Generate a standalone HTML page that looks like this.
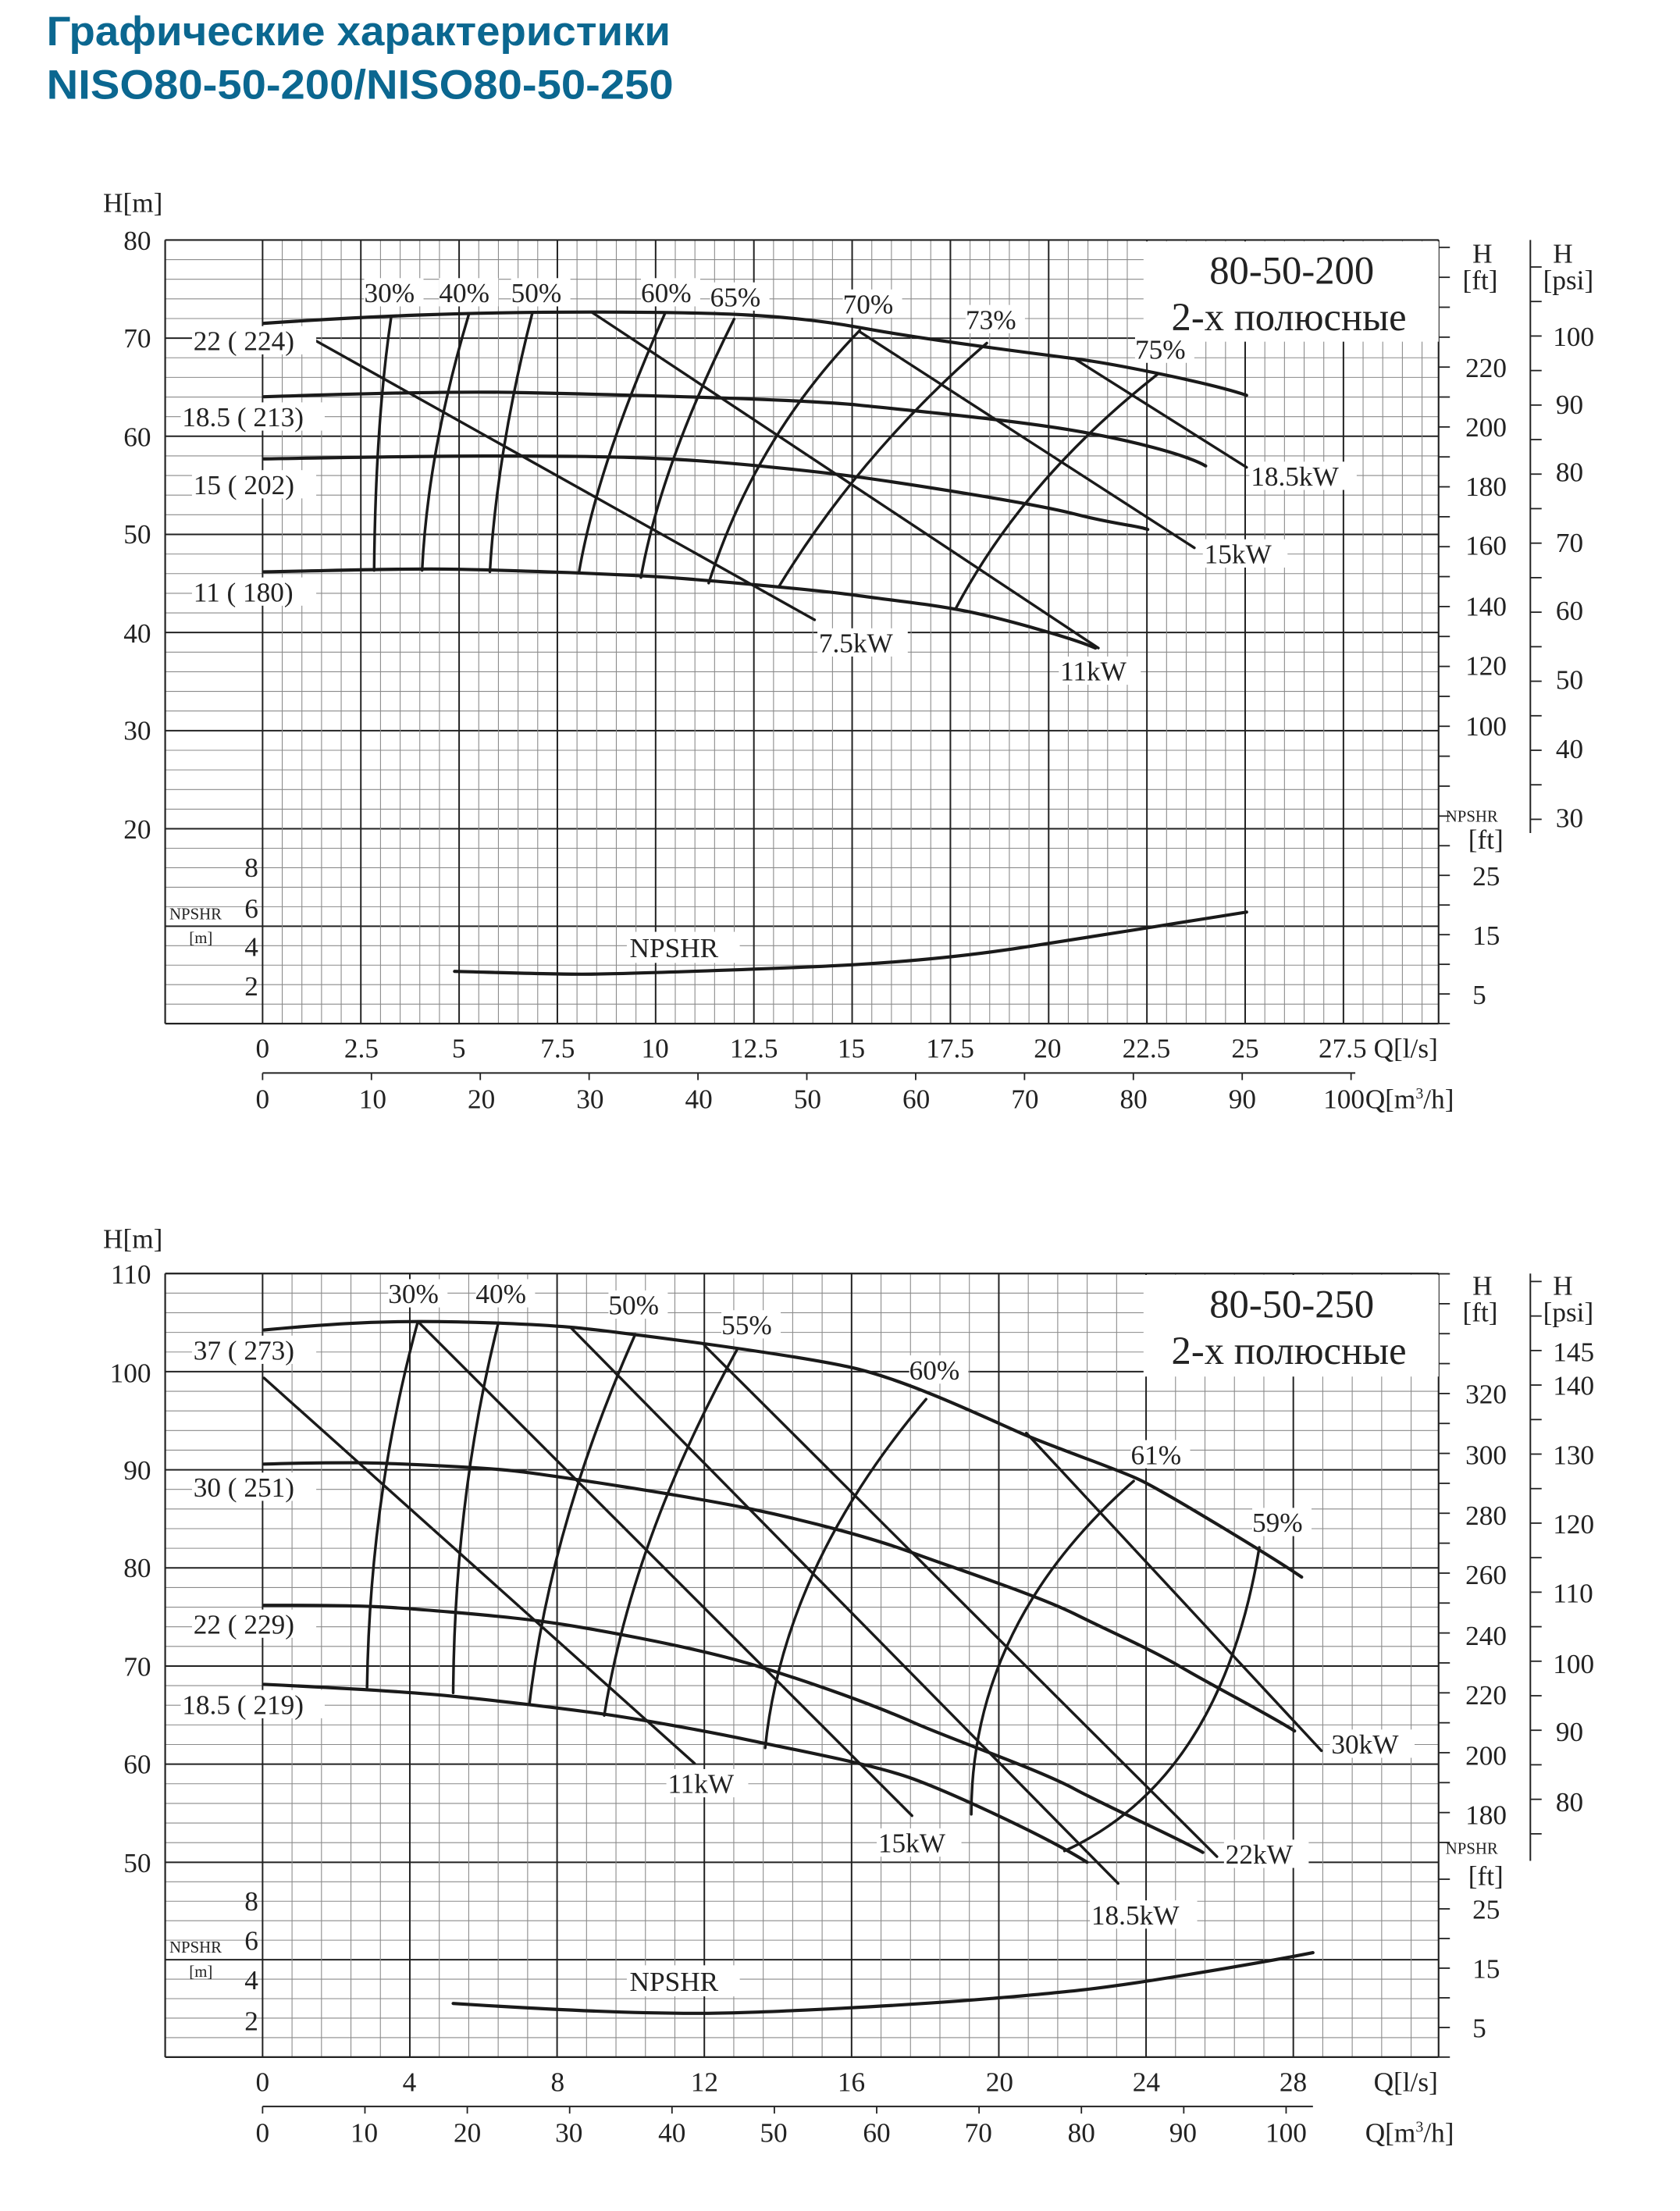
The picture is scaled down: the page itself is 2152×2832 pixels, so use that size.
<!DOCTYPE html>
<html><head><meta charset="utf-8"><style>
html,body{margin:0;padding:0;background:#fff;}
svg{display:block;}
text{font-family:"Liberation Serif","DejaVu Serif",serif;fill:#222;}
.t{font-size:19.5px;}
.s{font-size:11.5px;}
.c{fill:none;stroke:#1a1a1a;stroke-width:2.3;stroke-linecap:round;stroke-linejoin:round;}
.l{fill:none;stroke:#1a1a1a;stroke-width:1.9;stroke-linecap:round;}
.bg{fill:#fff;}
</style></head><body>
<svg id="sv" width="2152" height="2832" viewBox="0 0 1190 1566" preserveAspectRatio="none" xmlns="http://www.w3.org/2000/svg">
<rect width="1190" height="1566" fill="#fff"/>
<g id="grid"></g>
<text x="33" y="32" textLength="442" lengthAdjust="spacingAndGlyphs" style="font-family:'Liberation Sans','DejaVu Sans',sans-serif;font-weight:bold;font-size:29px;fill:#0b6790">Графические характеристики</text>
<text x="33" y="70" textLength="444" lengthAdjust="spacingAndGlyphs" style="font-family:'Liberation Sans','DejaVu Sans',sans-serif;font-weight:bold;font-size:29px;fill:#0b6790">NISO80-50-200/NISO80-50-250</text>

<!-- ============ CHART 1 ============ -->
<rect class="bg" x="810" y="171" width="209" height="71"/>
<text x="915" y="201" text-anchor="middle" style="font-size:28px">80-50-200</text>
<text x="913" y="234" text-anchor="middle" style="font-size:28px">2-х полюсные</text>
<text x="73" y="150" class="t">H[m]</text>
<g class="t" text-anchor="end">
<text x="107" y="177">80</text><text x="107" y="246">70</text><text x="107" y="316">60</text><text x="107" y="385">50</text><text x="107" y="455">40</text><text x="107" y="524">30</text><text x="107" y="594">20</text>
<text x="183" y="621">8</text><text x="183" y="650">6</text><text x="183" y="677">4</text><text x="183" y="705">2</text>
</g>
<text x="120" y="651" class="s">NPSHR</text><text x="134" y="668" class="s">[m]</text>
<g class="t">
<text x="1043" y="186">H</text><text x="1036" y="205">[ft]</text>
<text x="1100" y="186">H</text><text x="1093" y="205">[psi]</text>
<text x="1038" y="267">220</text><text x="1038" y="309">200</text><text x="1038" y="351">180</text><text x="1038" y="393">160</text><text x="1038" y="436">140</text><text x="1038" y="478">120</text><text x="1038" y="521">100</text>
<text x="1100" y="245">100</text><text x="1102" y="293">90</text><text x="1102" y="341">80</text><text x="1102" y="391">70</text><text x="1102" y="439">60</text><text x="1102" y="488">50</text><text x="1102" y="537">40</text><text x="1102" y="586">30</text>
<text x="1040" y="601">[ft]</text><text x="1043" y="627">25</text><text x="1043" y="669">15</text><text x="1043" y="711">5</text>
</g>
<text x="1024" y="582" class="s">NPSHR</text>
<g class="t" text-anchor="middle">
<text x="186" y="749">0</text><text x="256" y="749">2.5</text><text x="325" y="749">5</text><text x="395" y="749">7.5</text><text x="464" y="749">10</text><text x="534" y="749">12.5</text><text x="603" y="749">15</text><text x="673" y="749">17.5</text><text x="742" y="749">20</text><text x="812" y="749">22.5</text><text x="882" y="749">25</text><text x="951" y="749">27.5</text>
<text x="186" y="785">0</text><text x="264" y="785">10</text><text x="341" y="785">20</text><text x="418" y="785">30</text><text x="495" y="785">40</text><text x="572" y="785">50</text><text x="649" y="785">60</text><text x="726" y="785">70</text><text x="803" y="785">80</text><text x="880" y="785">90</text><text x="952" y="785">100</text>
</g>
<text x="973" y="749" class="t">Q[l/s]</text>
<text x="967" y="785" class="t">Q[m<tspan dy="-7" style="font-size:11px">3</tspan><tspan dy="7">/h]</tspan></text>

<path class="c" d="M187,229 C260,224 330,221 420,221 S560,223 609,232 S730,250 761,254 S860,272 883,280"/>
<path class="c" d="M187,281 C250,279 320,277 366,278 S560,282 609,287 S720,298 761,305 S840,322 854,330"/>
<path class="c" d="M187,325 C250,324 300,323 343,323 S430,323 472,325 S580,334 609,338 S730,356 761,364 S805,372 813,375"/>
<path class="c" d="M187,405 C240,404 270,403 305,403 S420,406 457,408 S580,418 609,422 S660,428 685,433 S760,452 776,459"/>
<path class="c" d="M322,688 C360,689 390,690 412,690 S560,686 609,683 S700,675 731,670 S860,650 883,646"/>
<g class="l">
<line x1="207" y1="232" x2="577" y2="439"/>
<line x1="419" y1="221" x2="778" y2="459"/>
<line x1="609" y1="235" x2="846" y2="388"/>
<line x1="761" y1="254" x2="883" y2="331"/>
<path d="M277,225 Q266,300 265,404"/>
<path d="M332,223 Q303,320 299,404"/>
<path d="M377,222 Q352,320 347,405"/>
<path d="M471,222 Q423,330 410,406"/>
<path d="M520,226 Q468,330 454,409"/>
<path d="M609,234 Q535,310 502,413"/>
<path d="M699,243 Q610,320 552,415"/>
<path d="M820,265 Q725,340 677,431"/>
</g>
<g class="t">
<rect class="bg" x="258" y="197" width="42" height="20"/><text x="258" y="214">30%</text>
<rect class="bg" x="311" y="197" width="42" height="20"/><text x="311" y="214">40%</text>
<rect class="bg" x="362" y="197" width="42" height="20"/><text x="362" y="214">50%</text>
<rect class="bg" x="454" y="197" width="42" height="20"/><text x="454" y="214">60%</text>
<rect class="bg" x="503" y="200" width="42" height="20"/><text x="503" y="217">65%</text>
<rect class="bg" x="597" y="205" width="42" height="20"/><text x="597" y="222">70%</text>
<rect class="bg" x="684" y="216" width="42" height="20"/><text x="684" y="233">73%</text>
<rect class="bg" x="804" y="237" width="42" height="20"/><text x="804" y="254">75%</text>
<rect class="bg" x="579" y="445" width="64" height="20"/><text x="580" y="462">7.5kW</text>
<rect class="bg" x="750" y="465" width="58" height="20"/><text x="751" y="482">11kW</text>
<rect class="bg" x="852" y="382" width="60" height="20"/><text x="853" y="399">15kW</text>
<rect class="bg" x="885" y="327" width="76" height="20"/><text x="886" y="344">18.5kW</text>
<rect class="bg" x="444" y="660" width="80" height="22"/><text x="446" y="678">NPSHR</text>
<rect class="bg" x="136" y="231" width="88" height="20"/><text x="137" y="248">22 (  224)</text>
<rect class="bg" x="128" y="285" width="102" height="20"/><text x="129" y="302">18.5 (  213)</text>
<rect class="bg" x="136" y="333" width="88" height="20"/><text x="137" y="350">15 (  202)</text>
<rect class="bg" x="136" y="409" width="88" height="20"/><text x="137" y="426">11 (  180)</text>
</g>

<!-- ============ CHART 2 ============ -->
<rect class="bg" x="810" y="903" width="209" height="72"/>
<text x="915" y="933" text-anchor="middle" style="font-size:28px">80-50-250</text>
<text x="913" y="966" text-anchor="middle" style="font-size:28px">2-х полюсные</text>
<text x="73" y="884" class="t">H[m]</text>
<g class="t" text-anchor="end">
<text x="107" y="909">110</text><text x="107" y="979">100</text><text x="107" y="1048">90</text><text x="107" y="1117">80</text><text x="107" y="1187">70</text><text x="107" y="1256">60</text><text x="107" y="1326">50</text>
<text x="183" y="1353">8</text><text x="183" y="1381">6</text><text x="183" y="1409">4</text><text x="183" y="1438">2</text>
</g>
<text x="120" y="1383" class="s">NPSHR</text><text x="134" y="1400" class="s">[m]</text>
<g class="t">
<text x="1043" y="917">H</text><text x="1036" y="936">[ft]</text>
<text x="1100" y="917">H</text><text x="1093" y="936">[psi]</text>
<text x="1038" y="994">320</text><text x="1038" y="1037">300</text><text x="1038" y="1080">280</text><text x="1038" y="1122">260</text><text x="1038" y="1165">240</text><text x="1038" y="1207">220</text><text x="1038" y="1250">200</text><text x="1038" y="1292">180</text>
<text x="1100" y="964">145</text><text x="1100" y="988">140</text><text x="1100" y="1037">130</text><text x="1100" y="1086">120</text><text x="1100" y="1135">110</text><text x="1100" y="1185">100</text><text x="1102" y="1233">90</text><text x="1102" y="1283">80</text>
<text x="1040" y="1335">[ft]</text><text x="1043" y="1359">25</text><text x="1043" y="1401">15</text><text x="1043" y="1443">5</text>
</g>
<text x="1024" y="1313" class="s">NPSHR</text>
<g class="t" text-anchor="middle">
<text x="186" y="1481">0</text><text x="290" y="1481">4</text><text x="395" y="1481">8</text><text x="499" y="1481">12</text><text x="603" y="1481">16</text><text x="708" y="1481">20</text><text x="812" y="1481">24</text><text x="916" y="1481">28</text>
<text x="186" y="1517">0</text><text x="258" y="1517">10</text><text x="331" y="1517">20</text><text x="403" y="1517">30</text><text x="476" y="1517">40</text><text x="548" y="1517">50</text><text x="621" y="1517">60</text><text x="693" y="1517">70</text><text x="766" y="1517">80</text><text x="838" y="1517">90</text><text x="911" y="1517">100</text>
</g>
<text x="973" y="1481" class="t">Q[l/s]</text>
<text x="967" y="1517" class="t">Q[m<tspan dy="-7" style="font-size:11px">3</tspan><tspan dy="7">/h]</tspan></text>

<path class="c" d="M187,942 C230,938 260,936 298,936 S380,938 404,940 S570,960 609,970 S700,1005 723,1015 S790,1040 807,1048 S900,1102 922,1117"/>
<path class="c" d="M187,1037 C215,1036 235,1036 252,1036 S340,1039 366,1042 S490,1060 533,1069 S620,1090 647,1100 S735,1130 761,1143 S815,1168 837,1181 S900,1215 917,1226"/>
<path class="c" d="M187,1137 C220,1137 245,1137 267,1138 S350,1144 381,1148 S490,1166 533,1179 S620,1208 647,1220 S735,1253 761,1267 S835,1302 852,1312"/>
<path class="c" d="M187,1193 C230,1195 270,1197 305,1200 S390,1209 420,1213 S500,1226 533,1233 S620,1250 647,1260 S740,1300 770,1319"/>
<path class="c" d="M321,1419 C400,1424 450,1426 495,1426 S650,1420 708,1415 S780,1408 807,1404 S900,1389 930,1383"/>
<g class="l">
<line x1="187" y1="976" x2="492" y2="1249"/>
<line x1="296" y1="936" x2="646" y2="1286"/>
<line x1="404" y1="940" x2="792" y2="1334"/>
<line x1="499" y1="953" x2="862" y2="1315"/>
<line x1="727" y1="1015" x2="936" y2="1240"/>
<path d="M296,936 Q262,1060 260,1195"/>
<path d="M353,937 Q322,1060 321,1199"/>
<path d="M450,945 Q390,1080 375,1207"/>
<path d="M522,956 Q448,1090 428,1215"/>
<path d="M656,991 Q555,1110 542,1238"/>
<path d="M803,1049 Q688,1150 688,1285"/>
<path d="M892,1096 Q865,1260 754,1311"/>
</g>
<g class="t">
<rect class="bg" x="275" y="906" width="42" height="20"/><text x="275" y="923">30%</text>
<rect class="bg" x="337" y="906" width="42" height="20"/><text x="337" y="923">40%</text>
<rect class="bg" x="431" y="914" width="42" height="20"/><text x="431" y="931">50%</text>
<rect class="bg" x="511" y="928" width="42" height="20"/><text x="511" y="945">55%</text>
<rect class="bg" x="644" y="960" width="42" height="20"/><text x="644" y="977">60%</text>
<rect class="bg" x="801" y="1020" width="42" height="20"/><text x="801" y="1037">61%</text>
<rect class="bg" x="887" y="1068" width="42" height="20"/><text x="887" y="1085">59%</text>
<rect class="bg" x="472" y="1253" width="58" height="20"/><text x="473" y="1270">11kW</text>
<rect class="bg" x="621" y="1295" width="60" height="20"/><text x="622" y="1312">15kW</text>
<rect class="bg" x="772" y="1346" width="76" height="20"/><text x="773" y="1363">18.5kW</text>
<rect class="bg" x="867" y="1303" width="60" height="20"/><text x="868" y="1320">22kW</text>
<rect class="bg" x="942" y="1225" width="60" height="20"/><text x="943" y="1242">30kW</text>
<rect class="bg" x="444" y="1392" width="80" height="22"/><text x="446" y="1410">NPSHR</text>
<rect class="bg" x="136" y="946" width="88" height="20"/><text x="137" y="963">37 (  273)</text>
<rect class="bg" x="136" y="1043" width="88" height="20"/><text x="137" y="1060">30 (  251)</text>
<rect class="bg" x="136" y="1140" width="88" height="20"/><text x="137" y="1157">22 (  229)</text>
<rect class="bg" x="128" y="1197" width="102" height="20"/><text x="129" y="1214">18.5 (  219)</text>
</g>
</svg>
<script>
(function(){
var g=document.getElementById('grid'),NS='http://www.w3.org/2000/svg';
function L(x1,y1,x2,y2,c,w){var e=document.createElementNS(NS,'line');e.setAttribute('x1',x1);e.setAttribute('y1',y1);e.setAttribute('x2',x2);e.setAttribute('y2',y2);e.setAttribute('stroke',c);e.setAttribute('stroke-width',w);g.appendChild(e);}
function chart(top,hStep,nH,mid,bot,vStep,nV,ftAx,psiAx,npAx,qLine){
 var L0=117,R=1019,X0=186;
 for(var k=0;k<=nH;k++){var y=top+k*hStep;var maj=k%5==0;L(L0,y,R,y,maj?'#222':'#8a8a8a',maj?1.1:0.6);}
 for(var j=1;j<10;j++){var y=mid+j*13.8;L(L0,y,R,y,j==5?'#222':'#8a8a8a',j==5?1.1:0.6);}
 for(var i=0;i<=nV;i++){var x=X0+i*vStep;if(x>R+0.5)break;var maj=i%5==0;L(x,top,x,bot,maj?'#222':'#8a8a8a',maj?1.1:0.6);}
 L(L0,top,R,top,'#222',1.2);L(L0,bot,R,bot,'#222',1.2);L(L0,top,L0,bot,'#222',1.2);L(R,top,R,bot,'#222',1.2);
 for(var t=0;t<ftAx.n;t++){var y=ftAx.y0+t*ftAx.st;if(y>=top-1&&y<=mid+2)L(R,y,R+8,y,'#222',1);}
 L(1084,top,1084,psiAx.end,'#222',1.1);
 for(var t=-20;t<30;t++){var y=psiAx.y0+t*psiAx.st;if(y>=top&&y<=psiAx.end)L(1084,y,1092,y,'#222',1);}
 for(var t=-3;t<6;t++){var y=npAx.y0+t*21.0;if(y>mid+3&&y<=bot)L(R,y,R+8,y,'#222',1);}
 L(X0,qLine.y,qLine.x2,qLine.y,'#222',1.1);
 for(var t=0;t<=10;t++){var x=X0+t*qLine.st;L(x,qLine.y,x,qLine.y+5,'#222',1);}
}
chart(170,13.9,30,587,725,13.92,60,{y0:260-21.2*5,st:21.2,n:30},{y0:238,st:24.45,end:590},{y0:620},{y:760,x2:960,st:77.1});
chart(902,13.9,30,1319,1457,20.86,40,{y0:987-21.2*5,st:21.2,n:30},{y0:981,st:24.45,end:1318},{y0:1352},{y:1492,x2:930,st:72.5});
})();
</script>
</body></html>
